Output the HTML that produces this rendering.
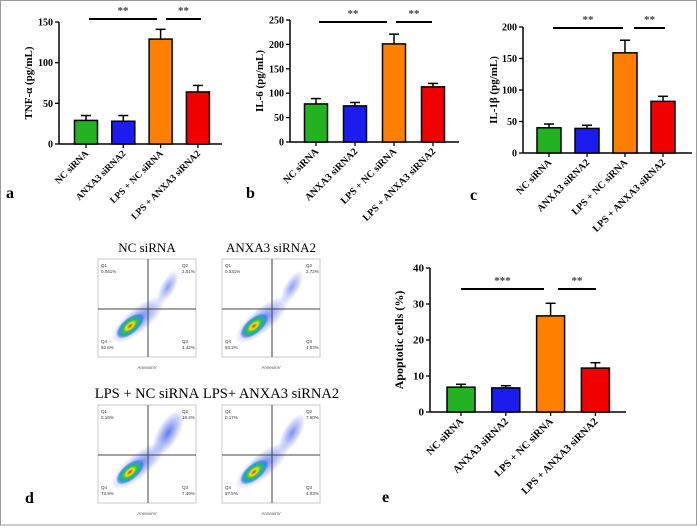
<!DOCTYPE html>
<html><head><meta charset="utf-8"><style>
body{margin:0;background:#fff}
svg{display:block;font-family:"Liberation Serif",serif}
</style></head><body>
<svg id="fig" width="697" height="530" viewBox="0 0 697 530">
<defs>
<radialGradient id="blob"><stop offset="0" stop-color="#e03020"/><stop offset="0.25" stop-color="#f0e020"/><stop offset="0.5" stop-color="#30c040"/><stop offset="0.75" stop-color="#20a0e0"/><stop offset="1" stop-color="#3040e0" stop-opacity="0"/></radialGradient>
<radialGradient id="cloud"><stop offset="0" stop-color="#3a5ae8" stop-opacity="0.8"/><stop offset="1" stop-color="#3a5ae8" stop-opacity="0"/></radialGradient>
</defs>
<rect x="0.5" y="0.5" width="696" height="524.5" fill="#fff" stroke="#999"/>
<g id="bars"></g>
<g id="flow"></g>
</svg>
<script>
const categories=["NC siRNA","ANXA3 siRNA2","LPS + NC siRNA","LPS + ANXA3 siRNA2"];
const colors=["#22b222","#1c1cf0","#ff8000","#f00000"];
const tnfValues=[29,28,129,64];
const tnfErrors=[6,7,12,8];
const tnfTicks=[0,50,100,150];
const il6Values=[78,74,201,113];
const il6Errors=[11,7,20,7];
const il6Ticks=[0,50,100,150,200,250];
const il1Values=[40,39,159,82];
const il1Errors=[6,5,20,8];
const il1Ticks=[0,50,100,150,200];
const apoValues=[6.9,6.7,26.7,12.2];
const apoErrors=[0.8,0.6,3.5,1.5];
const apoTicks=[0,10,20,30,40];
const NS="http://www.w3.org/2000/svg";
function mk(tag,attrs,parent,text){const e=document.createElementNS(NS,tag);for(const k in attrs)e.setAttribute(k,attrs[k]);if(text!==undefined)e.textContent=text;parent.appendChild(e);return e;}
function panel(p){
  const g=mk('g',{},document.getElementById('bars'));
  
  
  const y=v=>p.y0-(v/p.max)*(p.y0-p.ytop);
  const x=i=>p.c0+i*p.step;
  mk('line',{x1:p.x0,y1:p.ytop,x2:p.x0,y2:p.y0,stroke:'#000','stroke-width':1.5},g);
  mk('line',{x1:p.x0,y1:p.y0,x2:p.xend,y2:p.y0,stroke:'#000','stroke-width':1.5},g);
  p.ticks.forEach(t=>{mk('line',{x1:p.x0-4,y1:y(t),x2:p.x0,y2:y(t),stroke:'#000','stroke-width':1.3},g);
    const tl=mk('text',{x:p.x0-6,y:y(t)+3.5,'text-anchor':'end','font-size':p.tfs||10,'font-weight':'bold'},g,t);
    });
  const yl=mk('text',{x:0,y:0,transform:`translate(${p.ylx},${(p.ytop+p.y0)/2}) rotate(-90)`,'text-anchor':'middle','font-size':p.yfs||11,'font-weight':'bold'},g,p.ylabel);
  
  p.values.forEach((v,i)=>{
    const b=mk('rect',{x:x(i)-p.bw/2,y:y(v),width:p.bw,height:p.y0-y(v),fill:colors[i],stroke:'#000','stroke-width':1.5},g);
    
    const ey=y(v+p.errors[i]);
    mk('line',{x1:x(i),y1:y(v),x2:x(i),y2:ey,stroke:'#000','stroke-width':1.5},g);
    mk('line',{x1:x(i)-5,y1:ey,x2:x(i)+5,y2:ey,stroke:'#000','stroke-width':1.5},g);
    mk('line',{x1:x(i),y1:p.y0,x2:x(i),y2:p.y0+4,stroke:'#000','stroke-width':1.3},g);
    const cl=mk('text',{x:0,y:0,transform:`translate(${x(i)+3},${p.y0+10}) rotate(-45)`,'text-anchor':'end','font-size':p.cfs||9.5,'font-weight':'bold'},g,categories[i]);
    
  });
  p.sig.forEach(s=>{
    mk('line',{x1:s[0],y1:p.sy,x2:s[1],y2:p.sy,stroke:'#000','stroke-width':2},g);
    const st=mk('text',{x:(s[0]+s[1])/2,y:p.sy-5,'text-anchor':'middle','font-size':11,'font-weight':'bold','fill':'#444'},g,s[2]);
    
  });
  const lt=mk('text',{x:p.lx,y:p.ly,'font-size':16,'font-weight':'bold'},g,p.letter);
  
}
panel({name:'tnf-chart',x0:59,y0:144,ytop:22,max:150,xend:222,c0:86,step:37.3,bw:23,values:tnfValues,errors:tnfErrors,ticks:tnfTicks,ylabel:'TNF-α (pg/mL)',ylx:32,sy:19,sig:[[89,157,'**'],[166,201,'**']],letter:'a',lx:6,ly:198});
panel({name:'il6-chart',x0:290,y0:142,ytop:20,max:250,xend:459,c0:316,step:39,bw:23,cfs:10,values:il6Values,errors:il6Errors,ticks:il6Ticks,ylabel:'IL-6 (pg/mL)',ylx:263,sy:22,sig:[[319,387,'**'],[396,432,'**']],letter:'b',lx:246,ly:198});
panel({name:'il1b-chart',x0:523,y0:153,ytop:27,max:200,xend:692,c0:549,step:38,bw:24,cfs:10,values:il1Values,errors:il1Errors,ticks:il1Ticks,ylabel:'IL-1β (pg/mL)',ylx:497,sy:28,sig:[[553,623,'**'],[634,665,'**']],letter:'c',lx:470,ly:200});
panel({name:'apoptosis-chart',x0:430,y0:412,ytop:268,max:40,xend:626,c0:461,step:44.8,bw:28,cfs:10.5,tfs:11,yfs:12,values:apoValues,errors:apoErrors,ticks:apoTicks,ylabel:'Apoptotic cells (%)',ylx:403,sy:289,sig:[[461,544,'***'],[558,596,'**']],letter:'e',lx:382,ly:502});

const plots=[{t:'NC siRNA',x:98,y:259,ty:252,tsz:13,q:['0.041%','2.01%','92.6%','4.42%'],late:0.3},
{t:'ANXA3 siRNA2',x:222,y:259,ty:252,tsz:13,q:['0.031%','2.72%','93.2%','4.03%'],late:0.3},
{t:'LPS + NC siRNA',x:98,y:405,ty:398,tsz:14.5,q:['0.16%','18.4%','73.9%','7.49%'],late:1},
{t:'LPS+ ANXA3 siRNA2',x:222,y:405,ty:398,tsz:14.5,q:['0.17%','7.60%','87.5%','4.03%'],late:0.6}];
const fg=document.getElementById('flow');
plots.forEach((p,k)=>{
  const g=mk('g',{},fg);
  
  
  const W=98,H=98,vx=p.x+50,hy=p.y+50;
  const tt=mk('text',{x:p.x+W/2,y:p.ty,'text-anchor':'middle','font-size':p.tsz},g,p.t);
  
  mk('rect',{x:p.x,y:p.y,width:W,height:H,fill:'none',stroke:'#bbb','stroke-width':0.8},g);
  const cx=p.x+32,cy=p.y+67;
  mk('ellipse',{cx:cx+8,cy:cy-6,rx:34,ry:12,fill:'url(#cloud)',transform:`rotate(-40 ${cx+8} ${cy-6})`},g);
  const lx=p.x+70,ly=p.y+28;
  mk('ellipse',{cx:lx,cy:ly,rx:6+5*p.late,ry:16+10*p.late,fill:'url(#cloud)',opacity:0.6+0.4*p.late,transform:`rotate(30 ${lx} ${ly})`},g);
  mk('ellipse',{cx:cx,cy:cy,rx:17,ry:8,fill:'url(#blob)',transform:`rotate(-40 ${cx} ${cy})`},g);
  mk('line',{x1:vx,y1:p.y,x2:vx,y2:p.y+H,stroke:'#444','stroke-width':1},g);
  mk('line',{x1:p.x,y1:hy,x2:p.x+W,y2:hy,stroke:'#444','stroke-width':1},g);
  const qs=[[p.x+3,p.y+8,'Q1'],[p.x+W-14,p.y+8,'Q2'],[p.x+3,p.y+H-14,'Q4'],[p.x+W-14,p.y+H-14,'Q3']];
  qs.forEach((q,i)=>{mk('text',{x:q[0],y:q[1],'font-size':4.5,'font-family':'Liberation Sans',fill:'#333'},g,q[2]);
    mk('text',{x:q[0],y:q[1]+6,'font-size':4.5,'font-family':'Liberation Sans',fill:'#333'},g,p.q[i]);});
  mk('text',{x:p.x+W/2,y:p.y+H+12,'text-anchor':'middle','font-size':4.5,'font-family':'Liberation Sans',fill:'#555'},g,'AnnexinV');
});
const dl=mk('text',{x:25,y:503,'font-size':16,'font-weight':'bold'},fg,'d');


</script>
</body></html>
